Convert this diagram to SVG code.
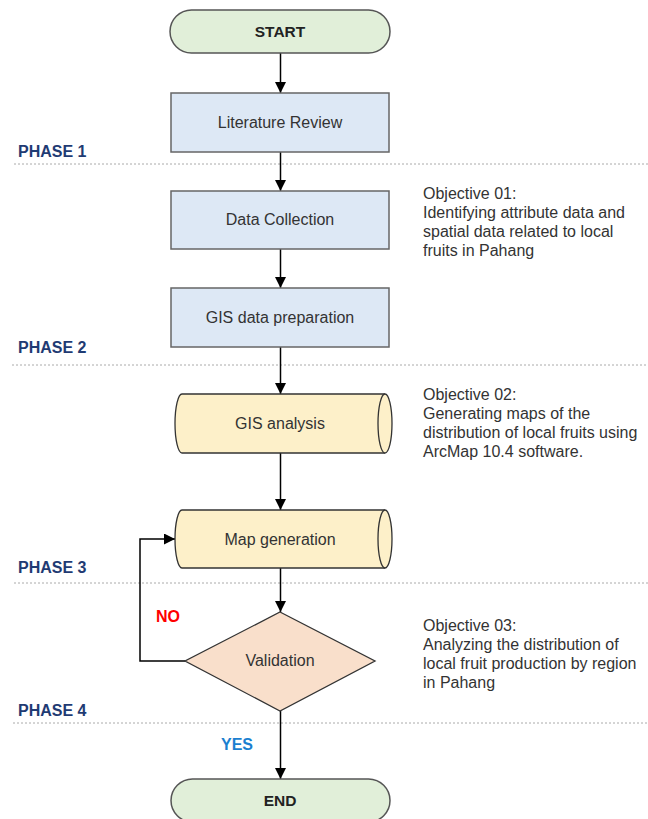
<svg xmlns="http://www.w3.org/2000/svg" width="648" height="819" viewBox="0 0 648 819">
<style>
.term{fill:#e1efd9;stroke:#555;stroke-width:1.5}
.box{fill:#dde8f5;stroke:#666;stroke-width:1.5}
.cyl{fill:#fdf0c9;stroke:#333;stroke-width:1.3}
.dia{fill:#f9dfcb;stroke:#333;stroke-width:1.3}
.lbl{font-family:"Liberation Sans",Arial,sans-serif;font-size:16px;fill:#333;text-anchor:middle}
.tlbl{font-family:"Liberation Sans",Arial,sans-serif;font-size:15.5px;font-weight:bold;fill:#222;text-anchor:middle}
.obj{font-family:"Liberation Sans",Arial,sans-serif;font-size:16px;fill:#333}
.phase{font-family:"Liberation Sans",Arial,sans-serif;font-size:16px;font-weight:bold;fill:#1f3b73}
.sep{stroke:#aaa;stroke-width:1;stroke-dasharray:2 2}
.conn{fill:none;stroke:#000;stroke-width:1.5}
</style>
<defs>
<marker id="arr" viewBox="0 0 10 10" refX="10" refY="5" markerWidth="11" markerHeight="11" markerUnits="userSpaceOnUse" orient="auto">
<path d="M0,0 L10,5 L0,10 z" fill="#000"/>
</marker>
</defs>
<g id="phases">
<line class="sep" x1="14" y1="164" x2="648" y2="164"/>
<line class="sep" x1="12" y1="365" x2="648" y2="365"/>
<line class="sep" x1="14" y1="583" x2="648" y2="583"/>
<line class="sep" x1="13" y1="723" x2="648" y2="723"/>
<text class="phase" x="18" y="157">PHASE 1</text>
<text class="phase" x="18" y="353">PHASE 2</text>
<text class="phase" x="18" y="573">PHASE 3</text>
<text class="phase" x="18" y="716">PHASE 4</text>
</g>
<g id="connectors">
<line class="conn" x1="280.5" y1="53" x2="280.5" y2="93" marker-end="url(#arr)"/>
<line class="conn" x1="280.5" y1="152" x2="280.5" y2="191" marker-end="url(#arr)"/>
<line class="conn" x1="280.5" y1="249" x2="280.5" y2="288" marker-end="url(#arr)"/>
<line class="conn" x1="280.5" y1="347" x2="280.5" y2="394" marker-end="url(#arr)"/>
<line class="conn" x1="280.5" y1="453" x2="280.5" y2="510" marker-end="url(#arr)"/>
<line class="conn" x1="280.5" y1="568" x2="280.5" y2="612" marker-end="url(#arr)"/>
<line class="conn" x1="280.5" y1="711" x2="280.5" y2="779" marker-end="url(#arr)"/>
<polyline class="conn" points="185,661 140,661 140,539 175,539" marker-end="url(#arr)"/>
<text x="168" y="622" font-family="Liberation Sans, Arial, sans-serif" font-size="16" font-weight="bold" fill="#ff0000" text-anchor="middle">NO</text>
<text x="237" y="750" font-family="Liberation Sans, Arial, sans-serif" font-size="16" font-weight="bold" fill="#1a7fd0" text-anchor="middle">YES</text>
</g>
<g id="start">
<rect class="term" x="170" y="10" width="220" height="43" rx="21.5"/>
<text class="tlbl" x="280" y="37">START</text>
</g>
<g id="literature">
<rect class="box" x="171" y="93" width="218" height="59"/>
<text class="lbl" x="280" y="128">Literature Review</text>
</g>
<g id="datacollection">
<rect class="box" x="171" y="191" width="218" height="58"/>
<text class="lbl" x="280" y="225">Data Collection</text>
</g>
<g id="gisprep">
<rect class="box" x="171" y="288" width="218" height="59"/>
<text class="lbl" x="280" y="323">GIS data preparation</text>
</g>
<g id="gisanalysis">
<path class="cyl" d="M182,394 L385,394 A7,29.5 0 0 1 385,453 L182,453 A7,29.5 0 0 1 182,394 Z"/>
<path class="cyl" fill="none" d="M385,394 A7,29.5 0 0 0 385,453"/>
<text class="lbl" x="280" y="429">GIS analysis</text>
</g>
<g id="mapgen">
<path class="cyl" d="M182,510 L385,510 A7,29 0 0 1 385,568 L182,568 A7,29 0 0 1 182,510 Z"/>
<path class="cyl" fill="none" d="M385,510 A7,29 0 0 0 385,568"/>
<text class="lbl" x="280" y="545">Map generation</text>
</g>
<g id="validation">
<polygon class="dia" points="280,612 375,661 280,711 185,661"/>
<text class="lbl" x="280" y="666">Validation</text>
</g>
<g id="end">
<rect class="term" x="171" y="779" width="219" height="43" rx="21.5"/>
<text class="tlbl" x="280" y="806">END</text>
</g>
<g id="objective1">
<text class="obj" x="423" y="199">Objective 01:</text>
<text class="obj" x="423" y="218">Identifying attribute data and</text>
<text class="obj" x="423" y="237">spatial data related to local</text>
<text class="obj" x="423" y="256">fruits in Pahang</text>
</g>
<g id="objective2">
<text class="obj" x="423" y="400">Objective 02:</text>
<text class="obj" x="423" y="419">Generating maps of the</text>
<text class="obj" x="423" y="438">distribution of local fruits using</text>
<text class="obj" x="423" y="457">ArcMap 10.4 software.</text>
</g>
<g id="objective3">
<text class="obj" x="423" y="631">Objective 03:</text>
<text class="obj" x="423" y="650">Analyzing the distribution of</text>
<text class="obj" x="423" y="669">local fruit production by region</text>
<text class="obj" x="423" y="688">in Pahang</text>
</g>
</svg>
